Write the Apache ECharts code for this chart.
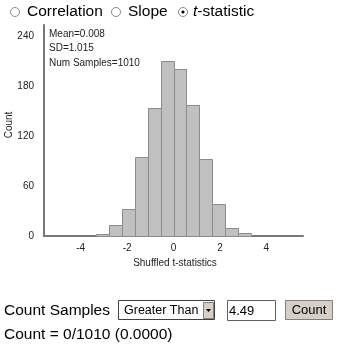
<!DOCTYPE html>
<html><head><meta charset="utf-8">
<script src="https://cdn.jsdelivr.net/npm/echarts@6/dist/echarts.min.js"></script>
<style>html,body{margin:0;padding:0;background:#fff}#c{width:343px;height:349px}</style>
</head><body><div id="c"></div>
<script>
// Histogram data (bin lower edges and counts)
var binWidth = 0.558;
var binLefts = [-3.348, -2.79, -2.232, -1.674, -1.116, -0.558, 0, 0.558, 1.116, 1.674, 2.232, 2.79];
var counts   = [3, 13, 33, 95, 154, 210, 200, 157, 92, 39, 10, 4];
var xTicks = [-4, -2, 0, 2, 4];
var yTicks = [0, 60, 120, 180, 240];
var statLines = ['Mean=0.008', 'SD=1.015', 'Num Samples=1010'];
var radioLabels = ['Correlation', 'Slope', 't-statistic'];

var data = binLefts.map(function (l, i) { return [l, l + binWidth, counts[i]]; });
var FONT = 'Liberation Sans, Arial, sans-serif';
var BIG = '15.5px ' + FONT;

var chart = echarts.init(document.getElementById('c'));
var graphics = [];
// radio row
var radios = [{cx: 15, sel: false}, {cx: 116, sel: false}, {cx: 183, sel: true}];
radios.forEach(function (r) {
  graphics.push({type: 'circle', shape: {cx: r.cx, cy: 12, r: 4.5}, style: {fill: '#fff', stroke: '#8a8a8a', lineWidth: 1}});
  if (r.sel) graphics.push({type: 'circle', shape: {cx: r.cx, cy: 12, r: 1.6}, style: {fill: '#000'}});
});
graphics.push({type: 'text', x: 27, y: 12, style: {text: radioLabels[0], font: BIG, fill: '#000', verticalAlign: 'middle'}});
graphics.push({type: 'text', x: 128, y: 12, style: {text: radioLabels[1], font: BIG, fill: '#000', verticalAlign: 'middle'}});
graphics.push({type: 'text', x: 193, y: 12, style: {text: '{i|t}{n|-statistic}', rich: {i: {font: 'italic ' + BIG, fill: '#000'}, n: {font: BIG, fill: '#000'}}, verticalAlign: 'middle'}});
// stats
statLines.forEach(function (s, i) {
  graphics.push({type: 'text', x: 49, y: 34 + i * 14.5, style: {text: s, font: '10px ' + FONT, fill: '#222', verticalAlign: 'middle'}});
});
// y-axis name
graphics.push({type: 'text', x: 9, y: 125, rotation: Math.PI / 2, style: {text: 'Count', font: '10px ' + FONT, fill: '#222', align: 'center', verticalAlign: 'middle'}});
// x-axis name
graphics.push({type: 'text', x: 175, y: 263, style: {text: 'Shuffled t-statistics', font: '10px ' + FONT, fill: '#222', align: 'center', verticalAlign: 'middle'}});
// bottom controls
graphics.push({type: 'text', x: 4, y: 311, style: {text: 'Count Samples', font: BIG, fill: '#000', verticalAlign: 'middle'}});
graphics.push({type: 'rect', shape: {x: 118.5, y: 300.5, width: 96, height: 19}, style: {fill: '#fff', stroke: '#404040', lineWidth: 1}});
graphics.push({type: 'text', x: 124, y: 310.5, style: {text: 'Greater Than', font: '12.5px ' + FONT, fill: '#000', verticalAlign: 'middle'}});
graphics.push({type: 'rect', shape: {x: 203.5, y: 302.5, width: 10, height: 16}, style: {fill: '#d4d0c8', stroke: '#808080', lineWidth: 1}});
graphics.push({type: 'polygon', shape: {points: [[206, 309], [211, 309], [208.5, 312]]}, style: {fill: '#000'}});
graphics.push({type: 'rect', shape: {x: 227.5, y: 300.5, width: 48, height: 20}, style: {fill: '#fff', stroke: '#606060', lineWidth: 1}});
graphics.push({type: 'text', x: 229, y: 311, style: {text: '4.49', font: '13px ' + FONT, fill: '#000', verticalAlign: 'middle'}});
graphics.push({type: 'rect', shape: {x: 285.5, y: 300.5, width: 47, height: 19}, style: {fill: '#d4d0c8', stroke: '#808080', lineWidth: 1}});
graphics.push({type: 'text', x: 309, y: 310.5, style: {text: 'Count', font: '13px ' + FONT, fill: '#000', align: 'center', verticalAlign: 'middle'}});
graphics.push({type: 'text', x: 4, y: 335, style: {text: 'Count = 0/1010 (0.0000)', font: BIG, fill: '#000', verticalAlign: 'middle'}});

chart.setOption({
  backgroundColor: '#fff',
  animation: false,
  grid: {left: 44, right: 40, top: 25, bottom: 113, containLabel: false},
  xAxis: {
    type: 'value', min: -5.58, max: 5.58,
    axisLine: {show: true, onZero: false, lineStyle: {color: '#777', width: 2}},
    axisTick: {show: false}, splitLine: {show: false},
    axisLabel: {customValues: xTicks, margin: 7, color: '#222', fontSize: 10, fontFamily: FONT}
  },
  yAxis: {
    type: 'value', min: 0, max: 253.2,
    axisLine: {show: true, onZero: false, lineStyle: {color: '#777', width: 2}},
    axisTick: {show: false}, splitLine: {show: false},
    axisLabel: {customValues: yTicks, margin: 10, color: '#222', fontSize: 10, fontFamily: FONT}
  },
  series: [{
    type: 'custom',
    data: data,
    z: 1,
    renderItem: function (params, api) {
      var p0 = api.coord([api.value(0), api.value(2)]);
      var p1 = api.coord([api.value(1), 0]);
      return {type: 'rect', shape: {x: Math.round(p0[0]) + 0.5, y: Math.round(p0[1]) + 0.5, width: Math.round(p1[0]) - Math.round(p0[0]), height: Math.round(p1[1]) - Math.round(p0[1])},
        style: {fill: '#c0c0c0', stroke: '#8c8c8c', lineWidth: 1}};
    }
  }],
  graphic: graphics
});
</script></body></html>
